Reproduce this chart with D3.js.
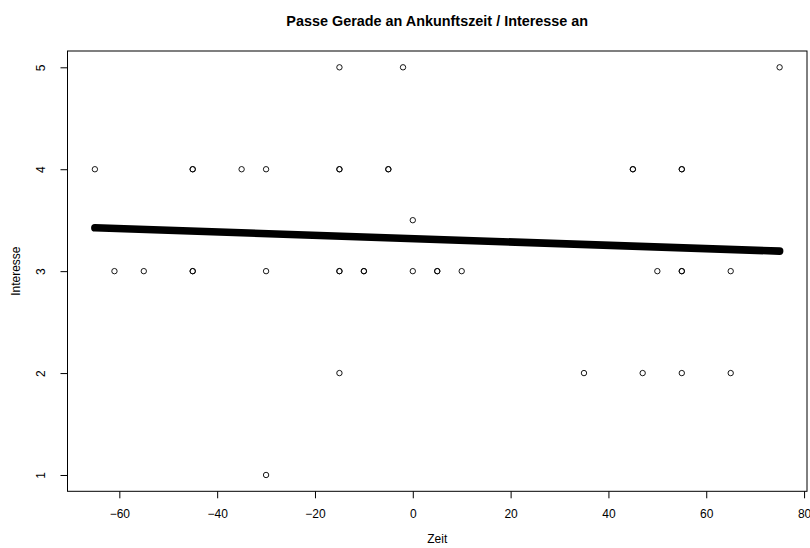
<!DOCTYPE html>
<html>
<head>
<meta charset="utf-8">
<script src="https://cdn.jsdelivr.net/npm/d3@7"></script>
<style>
  html, body { margin: 0; padding: 0; background: #fff; }
  svg { display: block; }
  text { font-family: "Liberation Sans", Arial, Helvetica, sans-serif; fill: #000; }
</style>
</head>
<body>
<svg id="chart" width="810" height="548"></svg>
<script>
// Arrival time (minutes relative to start) and stated interest, one entry per response
const zeit = [
  -15, -2, 75,                                            // Interesse 5
  -65, -45, -45, -35, -30, -15, -15, -5, -5, 45, 45, 55, 55, // Interesse 4
  0,                                                      // Interesse 3.5
  -61, -55, -45, -45, -30, -15, -15, -10, -10, 0, 5, 5, 10, 50, 55, 55, 65, // Interesse 3
  -15, 35, 47, 55, 65,                                    // Interesse 2
  -30                                                     // Interesse 1
];
const interesse = [
  5, 5, 5,
  4, 4, 4, 4, 4, 4, 4, 4, 4, 4, 4, 4, 4,
  3.5,
  3, 3, 3, 3, 3, 3, 3, 3, 3, 3, 3, 3, 3, 3, 3, 3, 3,
  2, 2, 2, 2, 2,
  1
];

// Fitted straight line: Interesse = intercept + slope * Zeit, over the observed time range
const fitIntercept = 3.319;
const fitSlope = -0.001636;
const fitRange = [-65, 75];

const xTicks = [-60, -40, -20, 0, 20, 40, 60, 80];
const yTicks = [1, 2, 3, 4, 5];

const title = "Passe Gerade an Ankunftszeit / Interesse an";
const xLabel = "Zeit";
const yLabel = "Interesse";

const svg = d3.select("#chart");

const plot = { left: 67.5, right: 807, top: 51, bottom: 491.3 };

// Data range padded by 4% on each side
const xExt = d3.extent(zeit), yExt = d3.extent(interesse);
const xPad = (xExt[1] - xExt[0]) * 0.04, yPad = (yExt[1] - yExt[0]) * 0.04;

const x = d3.scaleLinear().domain([xExt[0] - xPad, xExt[1] + xPad]).range([plot.left, plot.right]);
const y = d3.scaleLinear().domain([yExt[0] - yPad, yExt[1] + yPad]).range([plot.bottom, plot.top]);

// Plot frame
svg.append("rect")
  .attr("x", plot.left).attr("y", plot.top)
  .attr("width", plot.right - plot.left).attr("height", plot.bottom - plot.top)
  .attr("fill", "none").attr("stroke", "#000").attr("stroke-width", 1);

// Bottom axis
const xAxis = svg.append("g")
  .attr("transform", `translate(0,${plot.bottom})`)
  .call(d3.axisBottom(x).tickValues(xTicks).tickSize(7).tickSizeOuter(0).tickPadding(0).tickFormat(d3.format("d")));
xAxis.select(".domain").remove();
xAxis.selectAll(".tick line").attr("stroke", "#000");
xAxis.selectAll(".tick text")
  .attr("y", 27).attr("dy", null)
  .style("font-size", "12px").attr("fill", "#000");

// Left axis, labels parallel to the axis
const yAxis = svg.append("g")
  .attr("transform", `translate(${plot.left},0)`)
  .call(d3.axisLeft(y).tickValues(yTicks).tickSize(7).tickSizeOuter(0).tickFormat(d3.format("d")));
yAxis.select(".domain").remove();
yAxis.selectAll(".tick line").attr("stroke", "#000");
yAxis.selectAll(".tick text")
  .attr("x", null).attr("dy", null)
  .attr("text-anchor", "middle")
  .attr("transform", "translate(-23,0) rotate(-90)")
  .style("font-size", "12px").attr("fill", "#000");

// Titles
svg.append("text")
  .attr("x", (plot.left + plot.right) / 2).attr("y", 25.5)
  .attr("text-anchor", "middle")
  .style("font-size", "14.4px").style("font-weight", "bold")
  .text(title);

svg.append("text")
  .attr("x", (plot.left + plot.right) / 2).attr("y", 543)
  .attr("text-anchor", "middle")
  .style("font-size", "12px")
  .text(xLabel);

svg.append("text")
  .attr("transform", `translate(19.5,${(plot.top + plot.bottom) / 2}) rotate(-90)`)
  .attr("text-anchor", "middle")
  .style("font-size", "12px")
  .text(yLabel);

// Fitted line, drawn as a heavy band
const fitLine = d3.line()
  .x(d => x(d))
  .y(d => y(fitIntercept + fitSlope * d));
svg.append("path")
  .attr("d", fitLine(fitRange))
  .attr("fill", "none").attr("stroke", "#000")
  .attr("stroke-width", 7.6).attr("stroke-linecap", "round");

// Observations as open circles
svg.append("g")
  .selectAll("circle")
  .data(zeit.map((z, i) => ({ z, v: interesse[i] })))
  .join("circle")
  .attr("cx", d => x(d.z))
  .attr("cy", d => y(d.v))
  .attr("r", 2.7)
  .attr("fill", "none")
  .attr("stroke", "#000")
  .attr("stroke-width", 0.9);
</script>
</body>
</html>
